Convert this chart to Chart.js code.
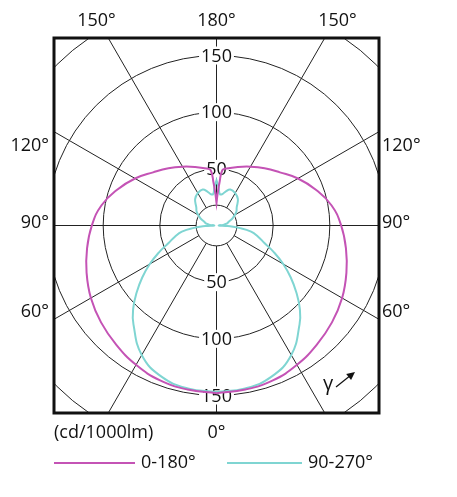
<!DOCTYPE html>
<html>
<head>
<meta charset="utf-8">
<script src="https://cdn.jsdelivr.net/npm/chart.js@4.4.0/dist/chart.umd.min.js"></script>
<style>
html, body { margin: 0; padding: 0; background: #fff; }
#wrap { width: 457px; height: 497px; }
</style>
</head>
<body>
<div id="wrap"><canvas id="myChart" width="457" height="497"></canvas></div>
<script>
// intensidad (cd/1000lm) por angulo gamma, plano C 0-180
var anglesMag = [0, 10, 20, 30, 40, 50, 60, 70, 80, 90, 100, 110, 120, 130, 140, 150, 160, 170, 174, 176, 178, 180];
var valuesMag = [148, 147, 145.5, 142, 137.5, 133, 128, 122, 116, 110, 103, 93, 83, 73, 66, 60, 55, 51, 49, 38, 28, 20];
// plano C 90-270
var anglesCyan = [0, 10, 20, 30, 40, 45, 50, 55, 60, 65, 70, 75, 80, 84, 87, 90, 95, 100, 106, 115, 124, 132, 141, 150, 159, 165, 170, 174, 177, 180];
var valuesCyan = [147, 146, 142, 132, 114, 104, 92, 80, 68, 56, 45, 38, 31, 20, 10, 2, 6, 9, 11, 16, 21, 24, 30, 33, 34, 31, 28, 28, 34, 40];

var ringValues = [50, 100, 150, 200];
var ringLabels = ['50', '100', '150'];
var innerRing = 18;
var spokeAngles = [0, 30, 60, 90, 120, 150, 180, 210, 240, 270, 300, 330];
var topLabels = ['150°', '180°', '150°'];
var sideLabels = ['120°', '90°', '60°'];
var bottomLabel = '0°';
var unitLabel = '(cd/1000lm)';
var seriesNames = ['0-180°', '90-270°'];
var seriesColors = ['#c453b5', '#7fd5d2'];

var FONT = '18px "Open Sans", "Noto Sans", sans-serif';

// curva simetrica: lado izquierdo 0->180 y lado derecho 180->0
function toPoints(angles, values) {
    var pts = [];
    for (var i = 0; i < angles.length; i++) {
        var t = angles[i] * Math.PI / 180;
        pts.push({ x: -values[i] * Math.sin(t), y: -values[i] * Math.cos(t) });
    }
    for (var j = angles.length - 1; j >= 0; j--) {
        var t2 = angles[j] * Math.PI / 180;
        pts.push({ x: values[j] * Math.sin(t2), y: -values[j] * Math.cos(t2) });
    }
    return pts;
}

var polarGrid = {
    id: 'polarGrid',
    beforeDatasetsDraw: function (chart) {
        var ctx = chart.ctx, a = chart.chartArea;
        var xs = chart.scales.x, ys = chart.scales.y;
        var cx = xs.getPixelForValue(0), cy = ys.getPixelForValue(0);
        var k = xs.getPixelForValue(1) - cx;
        ctx.save();
        ctx.beginPath();
        ctx.rect(a.left, a.top, a.right - a.left, a.bottom - a.top);
        ctx.clip();
        ctx.strokeStyle = '#222';
        ctx.lineWidth = 1;
        ringValues.concat([innerRing]).forEach(function (v) {
            ctx.beginPath();
            ctx.arc(cx, cy, v * k, 0, 2 * Math.PI);
            ctx.stroke();
        });
        spokeAngles.forEach(function (d) {
            var t = d * Math.PI / 180, s = Math.sin(t), c = Math.cos(t);
            ctx.beginPath();
            ctx.moveTo(cx + s * innerRing * k, cy + c * innerRing * k);
            ctx.lineTo(cx + s * 500, cy + c * 500);
            ctx.stroke();
        });
        // etiquetas de los anillos, arriba y abajo
        ctx.font = FONT;
        ctx.textAlign = 'center';
        ctx.textBaseline = 'middle';
        ringLabels.forEach(function (lab) {
            var r = parseFloat(lab) * k;
            [-1, 1].forEach(function (sgn) {
                var y = cy + sgn * r;
                var w = ctx.measureText(lab).width + 4;
                ctx.fillStyle = '#fff';
                ctx.fillRect(cx - w / 2, y - 9, w, 18);
                ctx.fillStyle = '#111';
                ctx.fillText(lab, cx, y + 1);
            });
        });
        ctx.restore();
    },
    afterDraw: function (chart) {
        var ctx = chart.ctx, a = chart.chartArea;
        var cx = chart.scales.x.getPixelForValue(0), cy = chart.scales.y.getPixelForValue(0);
        ctx.save();
        ctx.strokeStyle = '#111';
        ctx.lineWidth = 3;
        ctx.strokeRect(a.left, a.top, a.right - a.left, a.bottom - a.top);

        ctx.font = FONT;
        ctx.fillStyle = '#111';
        ctx.textBaseline = 'middle';
        ctx.textAlign = 'center';
        ctx.fillText(topLabels[0], cx - 120, a.top - 17);
        ctx.fillText(topLabels[1], cx, a.top - 17);
        ctx.fillText(topLabels[2], cx + 121, a.top - 17);
        ctx.fillText(bottomLabel, cx, a.bottom + 20);

        var sideY = [cy - 80, cy - 3, cy + 86];
        ctx.textAlign = 'right';
        sideLabels.forEach(function (t, i) { ctx.fillText(t, a.left - 5, sideY[i]); });
        ctx.textAlign = 'left';
        sideLabels.forEach(function (t, i) { ctx.fillText(t, a.right + 3, sideY[i]); });
        ctx.fillText(unitLabel, a.left, a.bottom + 20);

        // leyenda
        var ly = a.bottom + 50;
        var legendX = [[a.left, a.left + 81, a.left + 87], [a.left + 173, a.left + 248, a.left + 254]];
        seriesNames.forEach(function (name, i) {
            ctx.strokeStyle = seriesColors[i];
            ctx.lineWidth = 2;
            ctx.beginPath();
            ctx.moveTo(legendX[i][0], ly);
            ctx.lineTo(legendX[i][1], ly);
            ctx.stroke();
            ctx.fillStyle = '#111';
            ctx.fillText(name, legendX[i][2], ly);
        });

        // gamma y flecha
        ctx.font = '20px "Open Sans", "Noto Sans", sans-serif';
        ctx.fillText('γ', a.right - 56, a.bottom - 29);
        var x0 = a.right - 43, y0 = a.bottom - 26, x1 = a.right - 24, y1 = a.bottom - 41;
        ctx.strokeStyle = '#111';
        ctx.lineWidth = 1.2;
        ctx.beginPath();
        ctx.moveTo(x0, y0);
        ctx.lineTo(x1 - 4, y1 + 3);
        ctx.stroke();
        var ang = Math.atan2(y1 - y0, x1 - x0);
        ctx.beginPath();
        ctx.moveTo(x1, y1);
        ctx.lineTo(x1 - 9 * Math.cos(ang - 0.45), y1 - 9 * Math.sin(ang - 0.45));
        ctx.lineTo(x1 - 9 * Math.cos(ang + 0.45), y1 - 9 * Math.sin(ang + 0.45));
        ctx.closePath();
        ctx.fillStyle = '#111';
        ctx.fill();
        ctx.restore();
    }
};

var ctx = document.getElementById('myChart').getContext('2d');
var myChart = new Chart(ctx, {
    type: 'scatter',
    data: {
        datasets: [{
            label: seriesNames[0],
            data: toPoints(anglesMag, valuesMag),
            showLine: true,
            borderColor: seriesColors[0],
            borderWidth: 2,
            pointRadius: 0,
            tension: 0.45
        }, {
            label: seriesNames[1],
            data: toPoints(anglesCyan, valuesCyan),
            showLine: true,
            borderColor: seriesColors[1],
            borderWidth: 2,
            pointRadius: 0,
            tension: 0.45
        }]
    },
    options: {
        responsive: false,
        animation: false,
        devicePixelRatio: 1,
        layout: { padding: { left: 54, right: 78, top: 38, bottom: 84 } },
        scales: {
            x: { display: false, min: -143.4, max: 143.4 },
            y: { display: false, min: -165.5, max: 165.5 }
        },
        plugins: {
            legend: { display: false },
            tooltip: { enabled: false }
        }
    },
    plugins: [polarGrid]
});
</script>
</body>
</html>
